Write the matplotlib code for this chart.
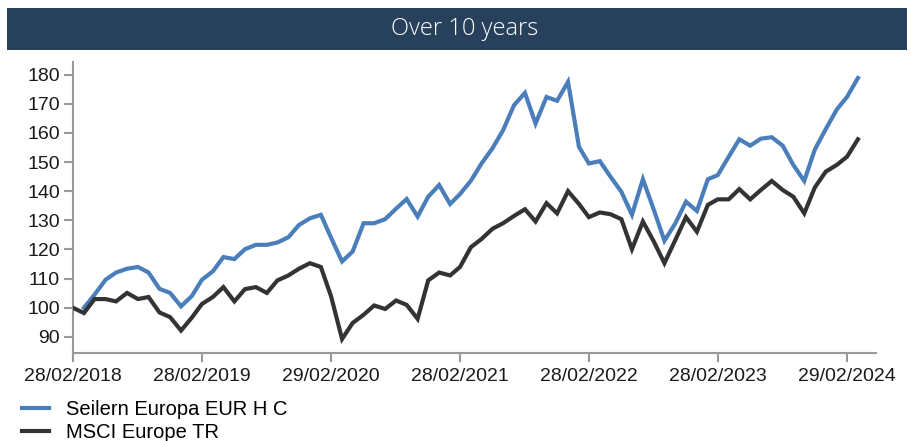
import matplotlib
matplotlib.use("Agg")
import matplotlib.pyplot as plt
import matplotlib.dates as mdates
from matplotlib.patches import Rectangle
import numpy as np
import pandas as pd

# ---- data ----
dates = pd.date_range("2018-02-28", periods=74, freq="ME")
seilern = [np.nan, 100, 104.5, 109.6, 112.1, 113.4, 114, 112.1, 106.5, 105.1,
           100.5, 104.1, 109.6, 112.5, 117.4, 116.7, 120.1, 121.6, 121.6, 122.4,
           124.2, 128.4, 130.7, 131.9, 124, 115.9, 119.3, 129, 129, 130.4,
           134, 137.3, 131.3, 138.1, 142.1, 135.6, 139, 143.6, 149.5, 154.7,
           160.9, 169.5, 173.7, 163.2, 172.3, 171, 177.5, 155.2, 149.5, 150.3,
           145, 139.8, 131.9, 144.1, 133.6, 123, 129, 136.4, 133.2, 144.1,
           145.5, 151.8, 157.8, 155.6, 158, 158.5, 155.6, 149, 143.5, 154.3,
           161.3, 168, 172.3, 178.8]
msci = [100, 98.2, 103, 103, 102.2, 105.1, 103, 103.7, 98.4, 96.8,
        92.2, 96.7, 101.3, 103.7, 107.1, 102.2, 106.4, 107.1, 105.1, 109.4,
        111.1, 113.4, 115.3, 114, 103.9, 89.3, 94.8, 97.6, 100.8, 99.6,
        102.5, 101, 96.2, 109.4, 112.1, 111.1, 114, 120.8, 123.6, 127.1,
        129, 131.5, 133.8, 129.6, 135.9, 132.4, 140, 135.6, 131.1, 132.7,
        132.1, 130.4, 120.1, 129.6, 122.7, 115.3, 123.3, 131.1, 126.1, 135.3,
        137.2, 137.2, 140.7, 137.2, 140.4, 143.5, 140.4, 138.1, 132.4, 141.3,
        146.7, 149, 151.8, 157.8]
series_names = ["Seilern Europa EUR H C", "MSCI Europe TR"]
yticks = [90, 100, 110, 120, 130, 140, 150, 160, 170, 180]
xtick_dates = dates[::12]
title = "Over 10 years"

W, H = 912, 441
fig = plt.figure(figsize=(W / 100, H / 100), dpi=100)
plt.rcParams["font.family"] = ["Liberation Sans", "DejaVu Sans"]

# title bar
fig.patches.append(Rectangle((7 / W, 1 - 50 / H), 900 / W, 42 / H,
                             transform=fig.transFigure, facecolor="#27415C",
                             edgecolor="none", zorder=0))
fig.text(465 / W, 1 - 29 / H, title, color="white", ha="center", va="center",
         fontsize=17, fontweight="light", family=["Open Sans", "DejaVu Sans"])

ax = fig.add_axes([73 / W, 1 - 353 / H, (876 - 73) / W, (353 - 62) / H])
blue, dark = "#4A7EBB", "#333333"
ax.plot(dates, seilern, color=blue, lw=3, label=series_names[0],
        solid_joinstyle="miter", zorder=3)
ax.plot(dates, msci, color=dark, lw=3, label=series_names[1],
        solid_joinstyle="miter", zorder=3)

d0 = mdates.date2num(dates[0])
d72 = mdates.date2num(dates[72])
ax.set_xlim(d0, d0 + (d72 - d0) * 74.7 / 72)
ax.set_ylim(84.5, 184.3)
ax.set_yticks(yticks)
ax.set_xticks(xtick_dates)
ax.xaxis.set_major_formatter(mdates.DateFormatter("%d/%m/%Y"))

for s in ["top", "right"]:
    ax.spines[s].set_visible(False)
for s in ["left", "bottom"]:
    ax.spines[s].set_color("#999999")
    ax.spines[s].set_linewidth(1.5)
ax.tick_params(axis="both", colors="#999999", width=1.5, length=6.5,
               labelcolor="#1a1a1a", labelsize=14)
ax.tick_params(axis="y", pad=3)
ax.tick_params(axis="x", pad=4)

fig.legend(loc="upper left", bbox_to_anchor=(22 / W, 1 - 400 / H),
           frameon=False, fontsize=14.5, handlelength=1.35, handletextpad=0.85,
           labelspacing=0.2, borderpad=0, borderaxespad=0)

fig.savefig("out.png", dpi=100)
